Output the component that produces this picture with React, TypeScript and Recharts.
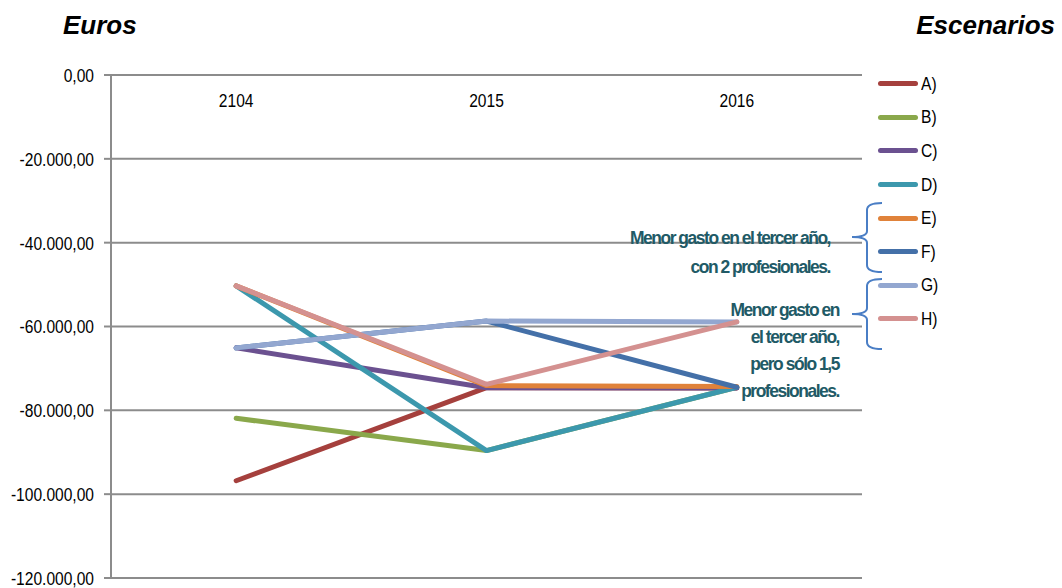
import React from 'react';
import { LineChart, Line, XAxis, YAxis, CartesianGrid, Legend } from 'recharts';

const years = ['2104', '2015', '2016'];
const seriesKeys = ['A', 'B', 'C', 'D', 'E', 'F', 'G', 'H'];
const seriesNames = ['A)', 'B)', 'C)', 'D)', 'E)', 'F)', 'G)', 'H)'];
const serieA = [-96800, -74600, -74700];
const serieB = [-81900, -89600, -74500];
const serieC = [-65100, -74600, -74700];
const serieD = [-50300, -89600, -74500];
const serieE = [-50300, -74100, -74300];
const serieF = [-65100, -58700, -74500];
const serieG = [-65100, -58700, -58900];
const serieH = [-50300, -73800, -58900];
const colors = ['#A5403D', '#8AA84B', '#6B5190', '#3C98AD', '#E0823A', '#4470A8', '#93A7D0', '#D49190'];
const yTicks = [0, -20000, -40000, -60000, -80000, -100000, -120000];
const boundaryTicks = [1, 2, 3];
const note1 = ['Menor gasto en el tercer año,', 'con 2 profesionales.'];
const note2 = ['Menor gasto en', 'el tercer año,', 'pero sólo 1,5', 'profesionales.'];

const allSeries = [serieA, serieB, serieC, serieD, serieE, serieF, serieG, serieH];
const data = years.map((year, i) => {
  const row: Record<string, any> = { year };
  seriesKeys.forEach((k, j) => {
    row[k] = allSeries[j][i];
  });
  return row;
});

const SANS = "'Liberation Sans', Arial, sans-serif";
const GRID = '#8C8C8C';
const SQUEEZE = 0.82;

const fmt = (v: number) => {
  const parts = Math.abs(v).toFixed(2).split('.');
  const int = parts[0].replace(/\B(?=(\d{3})+(?!\d))/g, '.');
  return (v < 0 ? '-' : '') + int + ',' + parts[1];
};

const XTick = (props: any) => {
  const { x, y, payload } = props;
  return (
    <text
      transform={`translate(${x},${y + 32}) scale(${SQUEEZE},1)`}
      textAnchor="middle"
      fontFamily={SANS}
      fontSize={19}
      fill="#000"
    >
      {payload.value}
    </text>
  );
};

const YTick = (props: any) => {
  const { x, y, payload } = props;
  return (
    <text
      transform={`translate(${x},${y}) scale(${SQUEEZE},1)`}
      textAnchor="end"
      dy="0.36em"
      fontFamily={SANS}
      fontSize={19}
      fill="#000"
    >
      {fmt(payload.value)}
    </text>
  );
};

const LegendContent = (props: any) => {
  const { payload } = props;
  return (
    <div style={{ display: 'flex', flexDirection: 'column' }}>
      {(payload || []).map((p: any) => (
        <div key={p.value} style={{ height: 33.6, display: 'flex', alignItems: 'center' }}>
          <span
            style={{ display: 'inline-block', width: 40, height: 5, borderRadius: 3, background: p.color, marginRight: 3 }}
          />
          <span
            style={{
              display: 'inline-block',
              fontFamily: SANS,
              fontSize: 19,
              color: '#000',
              lineHeight: '20px',
              transform: `scaleX(${SQUEEZE})`,
              transformOrigin: 'left center',
            }}
          >
            {p.value}
          </span>
        </div>
      ))}
    </div>
  );
};

const bracePath = (tipX: number, midX: number, endX: number, top: number, tip: number, bottom: number) =>
  `M${endX},${top} Q${midX},${top} ${midX},${top + 7} L${midX},${tip - 6} Q${midX},${tip} ${tipX},${tip} ` +
  `Q${midX},${tip} ${midX},${tip + 6} L${midX},${bottom - 7} Q${midX},${bottom} ${endX},${bottom}`;

const noteProps = {
  textAnchor: 'end' as const,
  fontFamily: SANS,
  fontSize: 19,
  fontWeight: 'bold',
  letterSpacing: -1.6,
  fill: '#215A66',
};

export default function App() {
  return (
    <div style={{ position: 'absolute', left: 0, top: 0, width: 1062, height: 588, background: '#fff' }}>
      <LineChart
        width={1062}
        height={588}
        data={data}
        margin={{ top: 45, right: 200, bottom: 10, left: 11 }}
      >
        <CartesianGrid vertical={false} stroke={GRID} strokeWidth={2} />
        <XAxis
          xAxisId="b"
          type="number"
          domain={[0, 3]}
          ticks={boundaryTicks}
          orientation="top"
          mirror
          height={0}
          tick={false}
          tickSize={5}
          tickLine={{ stroke: GRID, strokeWidth: 2 }}
          axisLine={{ stroke: GRID, strokeWidth: 2 }}
        />
        <XAxis
          dataKey="year"
          scale="band"
          orientation="top"
          height={30}
          axisLine={false}
          tickLine={false}
          tickSize={0}
          tickMargin={0}
          tick={<XTick />}
          interval={0}
        />
        <YAxis
          width={100}
          domain={[-120000, 0]}
          ticks={yTicks}
          interval={0}
          tickSize={7}
          tickMargin={10}
          axisLine={{ stroke: GRID, strokeWidth: 2 }}
          tickLine={{ stroke: GRID, strokeWidth: 2 }}
          tick={<YTick />}
        />
        <Legend
          layout="vertical"
          align="center"
          verticalAlign="middle"
          wrapperStyle={{ left: 878, top: 67, width: 80 }}
          content={<LegendContent />}
        />
        {seriesKeys.map((k, i) => (
          <Line
            key={k}
            dataKey={k}
            name={seriesNames[i]}
            stroke={colors[i]}
            strokeWidth={5}
            strokeLinecap="round"
            strokeLinejoin="round"
            dot={false}
            activeDot={false}
            isAnimationActive={false}
          />
        ))}
      </LineChart>
      <svg
        width={1062}
        height={588}
        style={{ position: 'absolute', left: 0, top: 0, pointerEvents: 'none' }}
      >
        <text x={63} y={34} fontFamily={SANS} fontSize={26} fontWeight="bold" fontStyle="italic" fill="#000">
          Euros
        </text>
        <text x={1055} y={34} textAnchor="end" fontFamily={SANS} fontSize={26} fontWeight="bold" fontStyle="italic" fill="#000">
          Escenarios
        </text>
        {note1.map((t, i) => (
          <text key={t} transform={`translate(830,${244 + i * 29}) scale(0.92,1)`} {...noteProps}>
            {t}
          </text>
        ))}
        {note2.map((t, i) => (
          <text key={t} transform={`translate(839,${316 + i * 27}) scale(0.92,1)`} {...noteProps}>
            {t}
          </text>
        ))}
        <path d={bracePath(852, 867, 882, 203, 237, 272)} fill="none" stroke="#4A7EC5" strokeWidth={2} />
        <path d={bracePath(852, 867, 882, 279, 314, 349)} fill="none" stroke="#4A7EC5" strokeWidth={2} />
      </svg>
    </div>
  );
}
